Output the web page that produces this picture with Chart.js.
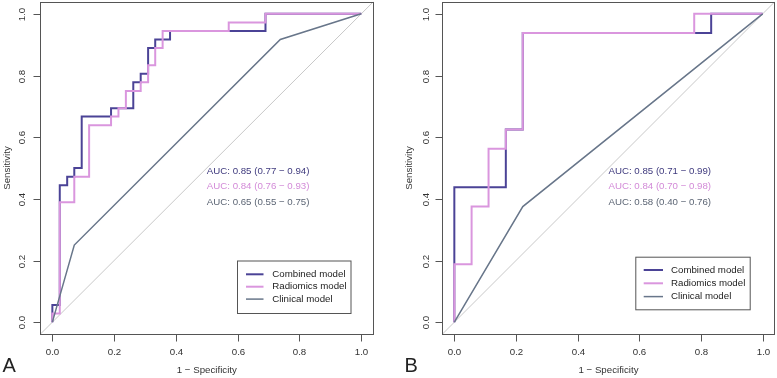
<!DOCTYPE html>
<html>
<head>
<meta charset="utf-8">
<script src="https://cdn.jsdelivr.net/npm/chart.js"></script>
<style>
  body { margin: 0; background: #fff; width: 777px; height: 378px; overflow: hidden; position: relative; }
  canvas { position: absolute; top: 0; }
  #rocA { left: 0; }
  #rocB { left: 388px; }
</style>
</head>
<body>
<canvas id="rocA" width="388" height="378"></canvas>
<canvas id="rocB" width="389" height="378"></canvas>
<script>
// ticks shared by both panels
const tickVals = [0, 0.2, 0.4, 0.6, 0.8, 1.0];
const tickLabels = ['0.0', '0.2', '0.4', '0.6', '0.8', '1.0'];
const seriesNames = ['Combined model', 'Radiomics model', 'Clinical model'];

// panel A points: [1 - specificity, sensitivity]
const combinedA = [[0, 0], [0, 0.056], [0.024, 0.056], [0.024, 0.444], [0.048, 0.444], [0.048, 0.472],
  [0.071, 0.472], [0.071, 0.5], [0.095, 0.5], [0.095, 0.667], [0.19, 0.667], [0.19, 0.694],
  [0.262, 0.694], [0.262, 0.778], [0.286, 0.778], [0.286, 0.806], [0.31, 0.806], [0.31, 0.889],
  [0.333, 0.889], [0.333, 0.917], [0.381, 0.917], [0.381, 0.944], [0.69, 0.944], [0.69, 1], [1, 1]];
const radiomicsA = [[0, 0], [0, 0.028], [0.024, 0.028], [0.024, 0.389], [0.071, 0.389], [0.071, 0.472],
  [0.119, 0.472], [0.119, 0.639], [0.19, 0.639], [0.19, 0.667], [0.214, 0.667], [0.214, 0.694],
  [0.238, 0.694], [0.238, 0.75], [0.286, 0.75], [0.286, 0.778], [0.31, 0.778], [0.31, 0.833],
  [0.333, 0.833], [0.333, 0.889], [0.357, 0.889], [0.357, 0.944], [0.571, 0.944], [0.571, 0.972],
  [0.69, 0.972], [0.69, 1], [1, 1]];
const clinicalA = [[0, 0], [0.071, 0.25], [0.738, 0.917], [1, 1]];
const aucA = ['AUC: 0.85 (0.77 \u2212 0.94)', 'AUC: 0.84 (0.76 \u2212 0.93)', 'AUC: 0.65 (0.55 \u2212 0.75)'];

// panel B points
const combinedB = [[0, 0], [0, 0.4375], [0.167, 0.4375], [0.167, 0.625], [0.222, 0.625], [0.222, 0.9375],
  [0.833, 0.9375], [0.833, 1], [1, 1]];
const radiomicsB = [[0, 0], [0, 0.1875], [0.056, 0.1875], [0.056, 0.375], [0.111, 0.375], [0.111, 0.5625],
  [0.167, 0.5625], [0.167, 0.625], [0.222, 0.625], [0.222, 0.9375], [0.778, 0.9375], [0.778, 1], [1, 1]];
const clinicalB = [[0, 0], [0.222, 0.375], [1, 1]];
const aucB = ['AUC: 0.85 (0.71 \u2212 0.99)', 'AUC: 0.84 (0.70 \u2212 0.98)', 'AUC: 0.58 (0.40 \u2212 0.76)'];

// chance line, runs corner to corner of the plot box
const diagonal = [[-0.04, -0.04], [1.04, 1.04]];

const lineColors = ['#4B4396', '#DA96DE', '#68768A'];
const textColors = ['#3F3A7E', '#D38BD8', '#5D6675'];
const lineWidths = [2, 2, 1.5];
const FONT = '9.7px "Liberation Sans", Arial, sans-serif';

const toXY = arr => arr.map(p => ({ x: p[0], y: p[1] }));

// R-like box, axes, text and legend
const rStyle = {
  id: 'rStyle',
  afterDraw(chart, args, o) {
    const ctx = chart.ctx, a = chart.chartArea;
    const xs = chart.scales.x, ys = chart.scales.y;
    ctx.save();
    ctx.strokeStyle = '#555';
    ctx.lineWidth = 1;
    const L = Math.round(a.left) + 0.5, R = Math.round(a.right) - 0.5;
    const T = Math.round(a.top) + 0.5, B = Math.round(a.bottom) - 0.5;
    ctx.strokeRect(L, T, R - L, B - T);

    ctx.font = FONT;
    ctx.fillStyle = '#333';
    ctx.textAlign = 'center';
    ctx.textBaseline = 'middle';
    tickVals.forEach((v, i) => {
      const px = Math.round(xs.getPixelForValue(v)) + 0.5;
      ctx.beginPath(); ctx.moveTo(px, B); ctx.lineTo(px, B + 7); ctx.stroke();
      ctx.fillText(tickLabels[i], px, a.bottom + 18);
      const py = Math.round(ys.getPixelForValue(v)) + 0.5;
      ctx.beginPath(); ctx.moveTo(L, py); ctx.lineTo(L - 7, py); ctx.stroke();
      ctx.save();
      ctx.translate(a.left - o.yLabOff, py);
      ctx.rotate(-Math.PI / 2);
      ctx.fillText(tickLabels[i], 0, 0);
      ctx.restore();
    });
    ctx.save();
    ctx.translate(a.left - 33, (a.top + a.bottom) / 2);
    ctx.rotate(-Math.PI / 2);
    ctx.fillText('Sensitivity', 0, 0);
    ctx.restore();
    ctx.fillText('1 \u2212 Specificity', (a.left + a.right) / 2, a.bottom + 35.5);

    // AUC labels
    ctx.textAlign = 'left';
    o.auc.forEach((t, i) => {
      ctx.fillStyle = textColors[i];
      ctx.fillText(t, xs.getPixelForValue(0.5), ys.getPixelForValue(0.49 - 0.05 * i));
    });

    // legend
    const lg = o.legend;
    ctx.fillStyle = '#fff';
    ctx.fillRect(lg.x, lg.y, lg.w, lg.h);
    ctx.strokeStyle = '#555';
    ctx.strokeRect(lg.x + 0.5, lg.y + 0.5, lg.w, lg.h);
    seriesNames.forEach((n, i) => {
      const y = lg.row0 + lg.gap * i;
      ctx.strokeStyle = lineColors[i];
      ctx.lineWidth = lineWidths[i];
      ctx.beginPath(); ctx.moveTo(lg.l0, y); ctx.lineTo(lg.l1, y); ctx.stroke();
      ctx.fillStyle = '#222';
      ctx.fillText(n, lg.tx, y);
    });

    // panel letter
    ctx.font = '20px "Liberation Sans", Arial, sans-serif';
    ctx.fillStyle = '#222';
    ctx.textBaseline = 'alphabetic';
    ctx.fillText(o.letter, o.letterX, 372);
    ctx.restore();
  }
};

function makeRoc(id, sets, auc, pad, extra) {
  const datasets = [{ data: toXY(diagonal), borderColor: '#C8C8C8', borderWidth: 1, order: 4 }];
  sets.forEach((s, i) => {
    datasets.push({ label: seriesNames[i], data: toXY(s), borderColor: lineColors[i],
      borderWidth: lineWidths[i], order: 3 - i });
  });
  datasets.forEach(d => { d.showLine = true; d.pointRadius = 0; d.tension = 0; d.fill = false; });
  return new Chart(document.getElementById(id), {
    type: 'scatter',
    data: { datasets: datasets },
    options: {
      responsive: false,
      animation: false,
      devicePixelRatio: 1,
      layout: { padding: pad },
      scales: {
        x: { type: 'linear', min: -0.04, max: 1.04, display: false },
        y: { type: 'linear', min: -0.04, max: 1.04, display: false }
      },
      plugins: {
        legend: { display: false },
        tooltip: { enabled: false },
        rStyle: Object.assign({ auc: auc }, extra)
      }
    },
    plugins: [rStyle]
  });
}

makeRoc('rocA', [combinedA, radiomicsA, clinicalA], aucA,
  { left: 40, right: 14.4, top: 1.5, bottom: 43.5 },
  { yLabOff: 18, letter: 'A', letterX: 2.5,
    legend: { x: 237, y: 260.5, w: 113.5, h: 52.5, l0: 246, l1: 263.5, tx: 272.3, row0: 274.3, gap: 12.4 } });

makeRoc('rocB', [combinedB, radiomicsB, clinicalB], aucB,
  { left: 54, right: 2, top: 1.5, bottom: 43.5 },
  { yLabOff: 15.5, letter: 'B', letterX: 16.5,
    legend: { x: 247.3, y: 256.7, w: 114.4, h: 52.6, l0: 255.7, l1: 275, tx: 283, row0: 270, gap: 13.3 } });
</script>
</body>
</html>
